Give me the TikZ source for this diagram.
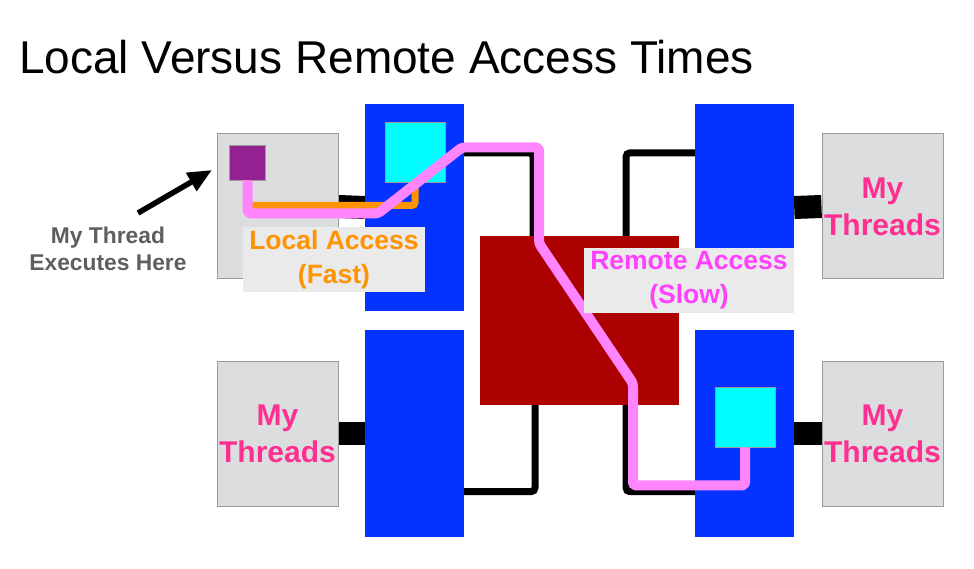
\documentclass[tikz,border=0pt]{standalone}
\usepackage{fontspec}
\setmainfont{Liberation Sans}
\usetikzlibrary{positioning, arrows.meta, backgrounds, calc}

\definecolor{coregray}{HTML}{DCDDDF}
\definecolor{edgegray}{HTML}{9A9A9A}
\definecolor{cacheblue}{HTML}{0433FF}
\definecolor{memcyan}{HTML}{00FDFF}
\definecolor{threadpurple}{HTML}{942192}
\definecolor{netred}{HTML}{AD0000}
\definecolor{fastorange}{HTML}{FF9300}
\definecolor{slowpink}{HTML}{FF85FF}
\definecolor{taggray}{HTML}{EAEAEA}
\definecolor{threadpink}{HTML}{FF2F92}
\definecolor{slowtext}{HTML}{FF40FF}
\definecolor{execgray}{HTML}{5E5E5E}

\begin{document}
\begin{tikzpicture}[
    x=1pt, y=-1pt,
    core/.style={rectangle, draw=edgegray, line width=1pt, fill=coregray, minimum width=121pt, minimum height=145pt, inner sep=0pt, align=center, text=threadpink, font=\fontsize{30}{37}\selectfont\bfseries},
    cache/.style={rectangle, fill=cacheblue, minimum width=99pt, minimum height=207pt, inner sep=0pt},
    mem/.style={rectangle, draw=edgegray, line width=0.8pt, fill=memcyan, minimum size=60pt, inner sep=0pt},
    net/.style={rectangle, fill=netred, minimum width=199pt, minimum height=169pt, inner sep=0pt},
    stub/.style={line width=23pt},
    wire/.style={line width=7pt, rounded corners=4pt},
    fastpath/.style={draw=fastorange, line width=7pt, rounded corners=3pt},
    slowpath/.style={draw=slowpink, line width=10pt, rounded corners=3pt, line join=round},
    tag/.style={rectangle, fill=taggray, inner sep=0pt, align=center, font=\fontsize{26.5}{34}\selectfont\bfseries},
    pointer/.style={line width=5.5pt, -{Triangle[length=24pt, width=20pt]}}
]
\useasboundingbox (0,0) rectangle (974,569);

% 1. Title
\node[anchor=base west, inner sep=0pt, font=\fontsize{46}{50}\selectfont] (title) at (19,73.3) {Local Versus Remote Access Times};

% 2. Cores (gray)
\node[core] (core1) at (277.5,206.5) {};
\node[core] (core2) at (882.5,206.5) {My\\Threads};
\node[core] (core3) at (277.5,433.5) {My\\Threads};
\node[core] (core4) at (882.5,433.5) {My\\Threads};

% 3. Memories (blue) with the cyan data
\node[cache] (blue1) at (414.5,207.5) {};
\node[cache] (blue2) at (744.5,207.5) {};
\node[cache] (blue3) at (414.5,433.5) {};
\node[cache] (blue4) at (744.5,433.5) {};
\node[mem] (cyan1) at (415,152) {};
\node[mem] (cyan2) at (745,417) {};
\node[rectangle, draw=edgegray, line width=0.8pt, fill=threadpurple, minimum width=36pt, minimum height=35pt, inner sep=0pt] (purple) at (247.5,162.5) {};

% 4. Interconnect (red)
\node[net] (red) at (579.5,320.5) {};

% Links
\begin{scope}[on background layer]
    \draw[stub] (core1.east) -- (blue1.west);
    \draw[stub] (core2.west) -- (blue2.east);
    \draw[stub] (core3.east) -- (blue3.west);
    \draw[stub] (core4.west) -- (blue4.east);
    \draw[wire] ([yshift=-49pt]blue1.north east) -| ([xshift=-46.5pt]red.north);
    \draw[wire] ([yshift=-49pt]blue2.north west) -| ([xshift=46.5pt]red.north);
    \draw[wire] ([xshift=-44.5pt]red.south) |- ([yshift=45.5pt]blue3.south east);
    \draw[wire] ([xshift=46.5pt]red.south) |- ([yshift=45.5pt]blue4.south west);
\end{scope}

% Paths
\draw[fastpath] (purple.south) -- ++(0,25) -| (cyan1.south);
\draw[slowpath] (purple.south) -- ++(0,33) -- ++(130.5,0) -- ++(84,-66) -- ++(77,0) -- ++(0,96) -- ++(94,140) -- ++(0,102) -| (cyan2.south);

% Labels
\node[tag, minimum width=182pt, minimum height=65pt, text=fastorange] (fast) at (334,259.5) {Local Access\\(Fast)};
\node[tag, minimum width=210pt, minimum height=65pt, text=slowtext] (slow) at (689,280.5) {Remote Access\\(Slow)};
\node[align=center, inner sep=0pt, text=execgray, font=\fontsize{22.8}{27}\selectfont\bfseries] (exec) at (108,248.5) {My Thread\\Executes Here};
\coordinate (tail) at (138,213);
\coordinate (tip) at (212,170);
\draw[pointer] (tail) -- (tip);

\end{tikzpicture}
\end{document}
